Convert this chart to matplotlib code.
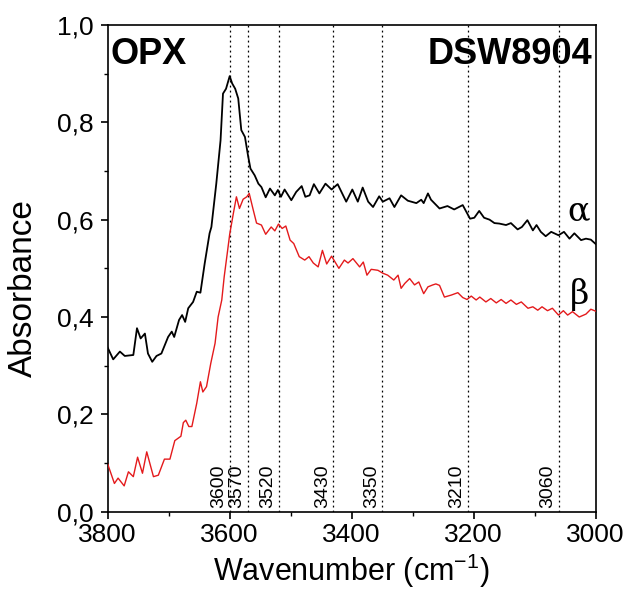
"""
OPX polarized FTIR spectra, sample DSW8904.
"""
import matplotlib
matplotlib.use('Agg')
import matplotlib.pyplot as plt
from matplotlib.ticker import MultipleLocator, FuncFormatter
from matplotlib import rcParams

rcParams['font.family'] = 'Liberation Sans'
rcParams['mathtext.default'] = 'regular'

# alpha spectrum (black)
wn_alpha = [3800, 3791, 3780, 3772, 3758, 3752, 3746, 3739, 3734, 3727, 3720, 3712,
            3701, 3695, 3691, 3683, 3678, 3673, 3668, 3660, 3654, 3648, 3641, 3633,
            3630, 3622, 3615, 3611, 3606, 3600, 3596, 3591, 3586, 3581, 3575, 3570,
            3566, 3559, 3553, 3548, 3541, 3534, 3526, 3521, 3516, 3510, 3499, 3491,
            3482, 3476, 3469, 3462, 3453, 3443, 3433, 3423, 3409, 3399, 3390, 3382,
            3373, 3365, 3355, 3349, 3338, 3330, 3319, 3308, 3294, 3286, 3282, 3275,
            3270, 3256, 3243, 3232, 3218, 3206, 3199, 3191, 3183, 3174, 3166, 3158,
            3147, 3139, 3128, 3121, 3112, 3103, 3097, 3090, 3082, 3073, 3061, 3052,
            3043, 3035, 3024, 3016, 3008, 3000]
abs_alpha = [0.337, 0.313, 0.329, 0.320, 0.322, 0.377, 0.356, 0.366, 0.325, 0.308, 0.320, 0.325,
             0.359, 0.370, 0.359, 0.394, 0.404, 0.390, 0.418, 0.431, 0.452, 0.450, 0.510, 0.572,
             0.585, 0.674, 0.763, 0.859, 0.869, 0.895, 0.880, 0.869, 0.849, 0.784, 0.770, 0.732,
             0.705, 0.691, 0.674, 0.667, 0.646, 0.664, 0.650, 0.661, 0.647, 0.662, 0.640, 0.657,
             0.669, 0.647, 0.650, 0.673, 0.654, 0.674, 0.662, 0.673, 0.637, 0.662, 0.637, 0.666,
             0.637, 0.626, 0.648, 0.637, 0.644, 0.626, 0.650, 0.639, 0.634, 0.641, 0.634, 0.654,
             0.641, 0.623, 0.628, 0.621, 0.630, 0.602, 0.604, 0.618, 0.604, 0.600, 0.593, 0.592,
             0.589, 0.593, 0.580, 0.585, 0.599, 0.578, 0.589, 0.575, 0.566, 0.575, 0.568, 0.575,
             0.561, 0.572, 0.558, 0.561, 0.559, 0.550]

# beta spectrum (red)
wn_beta = [3800, 3789, 3783, 3773, 3766, 3758, 3751, 3743, 3736, 3725, 3717, 3707,
           3698, 3690, 3680, 3676, 3672, 3667, 3662, 3654, 3648, 3644, 3638, 3631,
           3624, 3619, 3613, 3609, 3604, 3600, 3594, 3589, 3584, 3578, 3572, 3568,
           3562, 3556, 3548, 3541, 3532, 3526, 3520, 3514, 3508, 3501, 3495, 3486,
           3477, 3470, 3463, 3455, 3448, 3441, 3433, 3421, 3412, 3406, 3398, 3387,
           3381, 3375, 3368, 3357, 3349, 3341, 3331, 3324, 3319, 3313, 3305, 3297,
           3290, 3282, 3275, 3267, 3262, 3256, 3248, 3237, 3226, 3218, 3211, 3204,
           3196, 3190, 3180, 3172, 3163, 3155, 3147, 3139, 3130, 3122, 3111, 3103,
           3095, 3088, 3079, 3071, 3061, 3053, 3046, 3038, 3027, 3016, 3008, 3000]
abs_beta = [0.098, 0.058, 0.069, 0.053, 0.082, 0.072, 0.112, 0.079, 0.123, 0.072, 0.075, 0.108,
            0.108, 0.146, 0.155, 0.183, 0.188, 0.175, 0.175, 0.223, 0.267, 0.246, 0.257, 0.305,
            0.346, 0.400, 0.435, 0.483, 0.531, 0.570, 0.613, 0.647, 0.623, 0.642, 0.647, 0.654,
            0.623, 0.593, 0.589, 0.570, 0.585, 0.577, 0.591, 0.582, 0.587, 0.558, 0.551, 0.524,
            0.517, 0.524, 0.511, 0.503, 0.537, 0.509, 0.525, 0.500, 0.517, 0.511, 0.520, 0.503,
            0.513, 0.486, 0.498, 0.496, 0.490, 0.486, 0.476, 0.486, 0.459, 0.469, 0.479, 0.466,
            0.472, 0.448, 0.462, 0.466, 0.468, 0.465, 0.441, 0.445, 0.450, 0.440, 0.436, 0.443,
            0.435, 0.441, 0.431, 0.438, 0.429, 0.436, 0.428, 0.435, 0.426, 0.431, 0.418, 0.421,
            0.414, 0.421, 0.413, 0.418, 0.404, 0.413, 0.404, 0.411, 0.400, 0.406, 0.416, 0.412]

# band positions marked with dotted lines
peaks = [3600, 3570, 3520, 3430, 3350, 3210, 3060]


def comma(v, pos):
    return ('%.1f' % v).replace('.', ',')


fig = plt.figure(figsize=(6.28, 5.92), dpi=100)
ax = fig.add_axes([107.7 / 628, 1 - 511.7 / 592, 488 / 628, 486.7 / 592])

for p in peaks:
    ax.axvline(p, color='k', lw=0.9, ls=(0, (1.5, 2.5)), zorder=1)
    ax.text(p + 4, 0.008, str(p), rotation=90, ha='right', va='bottom', fontsize=14)

ax.plot(wn_alpha, abs_alpha, color='k', lw=1.3, zorder=3)
ax.plot(wn_beta, abs_beta, color='#e41a1c', lw=1.0, zorder=3)

ax.text(3027, 0.597, r'$\alpha$', fontsize=24, ha='center', va='baseline',
        family='DejaVu Serif', math_fontfamily='dejavuserif')
ax.text(3027, 0.426, r'$\beta$', fontsize=24, ha='center', va='baseline',
        family='DejaVu Serif', math_fontfamily='dejavuserif')

ax.text(0.006, 0.975, 'OPX', transform=ax.transAxes, fontsize=26, fontweight='bold',
        ha='left', va='top')
ax.text(0.994, 0.975, 'DSW8904', transform=ax.transAxes, fontsize=26, fontweight='bold',
        ha='right', va='top')

ax.set_xlim(3800, 3000)
ax.set_ylim(0, 1.0)
ax.xaxis.set_major_locator(MultipleLocator(200))
ax.xaxis.set_minor_locator(MultipleLocator(100))
ax.yaxis.set_major_locator(MultipleLocator(0.2))
ax.yaxis.set_minor_locator(MultipleLocator(0.1))
ax.yaxis.set_major_formatter(FuncFormatter(comma))

for s in ax.spines.values():
    s.set_linewidth(1.2)
ax.tick_params(which='major', direction='out', length=5, width=1.2, labelsize=19)
ax.tick_params(which='minor', direction='out', length=3, width=1.0)
ax.tick_params(axis='y', pad=5)
ax.tick_params(axis='x', pad=3)

ax.set_xlabel('Wavenumber (cm$^{-1}$)', fontsize=22)
ax.set_ylabel('Absorbance', fontsize=24)
ax.xaxis.set_label_coords(0.5, -0.083)
ax.yaxis.set_label_coords(-0.14, 0.46)

fig.savefig('out.png', dpi=100)
